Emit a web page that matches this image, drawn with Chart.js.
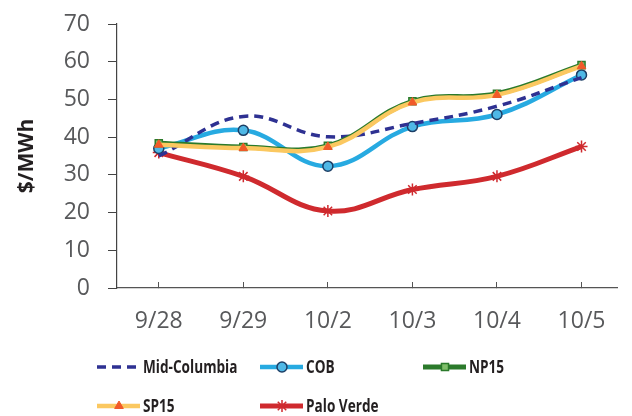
<!DOCTYPE html>
<html>
<head>
<meta charset="utf-8">
<script src="https://cdn.jsdelivr.net/npm/chart.js@4"></script>
<style>
  html, body { margin: 0; padding: 0; background: #fff; }
  #wrap { width: 632px; height: 416px; position: relative; }
</style>
</head>
<body>
<div id="wrap"><canvas id="priceChart"></canvas></div>
<script>
// 日付（カテゴリ）と各ハブの価格 ($/MWh)
const days = ["9/28", "9/29", "10/2", "10/3", "10/4", "10/5"];
const yTicks = [0, 10, 20, 30, 40, 50, 60, 70];

const midColumbia = [35.0, 45.5, 40.1, 43.6, 48.2, 55.8];
const cob = [37.0, 41.8, 32.3, 42.8, 46.0, 56.5];
const np15 = [38.4, 37.4, 37.7, 49.5, 51.5, 59.1];
const sp15 = [38.0, 37.1, 37.4, 49.2, 51.2, 58.8];
const paloVerde = [35.9, 29.6, 20.4, 26.1, 29.6, 37.5];

function toPoints(values) {
    return values.map((v, i) => ({ x: i, y: v }));
}

// 凡例は2段・3列で描画（元図の配置に合わせる）
const rowLegend = {
    id: "rowLegend",
    afterDraw(chart) {
        const ctx = chart.ctx;
        chart.data.datasets.forEach((ds, i) => {
            const col = i % 3;
            const row = Math.floor(i / 3);
            const x = 97 + col * 163;
            const y = 367 + row * 39;
            ctx.save();
            ctx.strokeStyle = ds.borderColor;
            ctx.lineWidth = ds.borderWidth;
            ctx.setLineDash(ds.borderDash || []);
            ctx.beginPath();
            ctx.moveTo(x, y);
            ctx.lineTo(x + 43, y);
            ctx.stroke();
            ctx.setLineDash([]);
            if (ds.pointRadius > 0) {
                ctx.fillStyle = ds.pointBackgroundColor;
                ctx.strokeStyle = ds.pointBorderColor;
                ctx.lineWidth = ds.pointBorderWidth;
                Chart.helpers.drawPoint(ctx, {
                    pointStyle: ds.pointStyle,
                    radius: ds.pointRadius,
                    borderWidth: ds.pointBorderWidth,
                    rotation: 0
                }, x + 22, y);
            }
            // 元図の書体は幅が狭いので横方向に縮めて描く
            ctx.translate(x + 46, y + 1);
            ctx.scale(0.8, 1);
            ctx.font = "bold 17px 'Open Sans', sans-serif";
            ctx.fillStyle = "#231f20";
            ctx.textBaseline = "middle";
            ctx.textAlign = "left";
            ctx.fillText(ds.label, 0, 0);
            ctx.restore();
        });
    }
};

const tickFont = { family: "'Open Sans', sans-serif", size: 23 };

new Chart(document.getElementById("priceChart"), {
    type: "line",
    data: {
        datasets: [
            {
                label: "Mid-Columbia",
                data: toPoints(midColumbia),
                borderColor: "#2e3192",
                borderWidth: 3.5,
                borderDash: [9, 6],
                pointRadius: 0,
                tension: 0.4,
                order: 2
            },
            {
                label: "COB",
                data: toPoints(cob),
                borderColor: "#27aae1",
                borderWidth: 4.5,
                pointStyle: "circle",
                pointRadius: 5,
                pointBackgroundColor: "#4fb8e6",
                pointBorderColor: "#1d3f66",
                pointBorderWidth: 1.5,
                tension: 0.4,
                order: 3
            },
            {
                label: "NP15",
                data: toPoints(np15),
                borderColor: "#2b7a2b",
                borderWidth: 5,
                pointStyle: "rect",
                pointRadius: 5,
                pointBackgroundColor: "#7fbf6a",
                pointBorderColor: "#2b7a2b",
                pointBorderWidth: 1.5,
                tension: 0.4,
                order: 1
            },
            {
                label: "SP15",
                data: toPoints(sp15),
                borderColor: "#fbc860",
                borderWidth: 4.5,
                pointStyle: "triangle",
                pointRadius: 5,
                pointBackgroundColor: "#f15a29",
                pointBorderColor: "#f15a29",
                pointBorderWidth: 1,
                tension: 0.4,
                order: 0
            },
            {
                label: "Palo Verde",
                data: toPoints(paloVerde),
                borderColor: "#cf2a2e",
                borderWidth: 5,
                pointStyle: "star",
                pointRadius: 6,
                pointBackgroundColor: "#cf2a2e",
                pointBorderColor: "#cf2a2e",
                pointBorderWidth: 1.5,
                tension: 0.4,
                order: 4
            }
        ]
    },
    options: {
        responsive: true,
        maintainAspectRatio: false,
        animation: false,
        layout: { padding: { top: 24, right: 0, left: 0, bottom: 0 } },
        plugins: {
            legend: { display: false },
            tooltip: { enabled: false }
        },
        scales: {
            x: {
                type: "linear",
                min: -0.494,
                max: 5.425,
                afterFit: s => { s.height = 128; },
                afterBuildTicks: s => { s.ticks = days.map((d, i) => ({ value: i })); },
                grid: {
                    drawOnChartArea: false,
                    tickLength: -6,
                    color: "#555"
                },
                border: { color: "#555", width: 1.2 },
                ticks: {
                    callback: v => days[v],
                    font: tickFont,
                    color: "#58595b",
                    padding: 26,
                    maxRotation: 0,
                    autoSkip: false
                }
            },
            y: {
                min: 0,
                max: 70,
                // 目盛ラベル分の余白を消して、プロット上端を固定する
                afterFit: s => { s.width = 117; s.paddingTop = 0; s.paddingBottom = 0; },
                afterBuildTicks: s => { s.ticks = yTicks.map(v => ({ value: v })); },
                grid: {
                    drawOnChartArea: false,
                    tickLength: 9,
                    color: "#444"
                },
                border: { color: "#444", width: 1.2 },
                ticks: {
                    font: tickFont,
                    color: "#58595b",
                    padding: 18
                },
                title: {
                    display: true,
                    text: "$/MWh",
                    font: { family: "'Open Sans', sans-serif", size: 21, weight: "bold" },
                    color: "#231f20",
                    padding: { top: 14, bottom: 0 }
                }
            }
        }
    },
    plugins: [rowLegend]
});
</script>
</body>
</html>
